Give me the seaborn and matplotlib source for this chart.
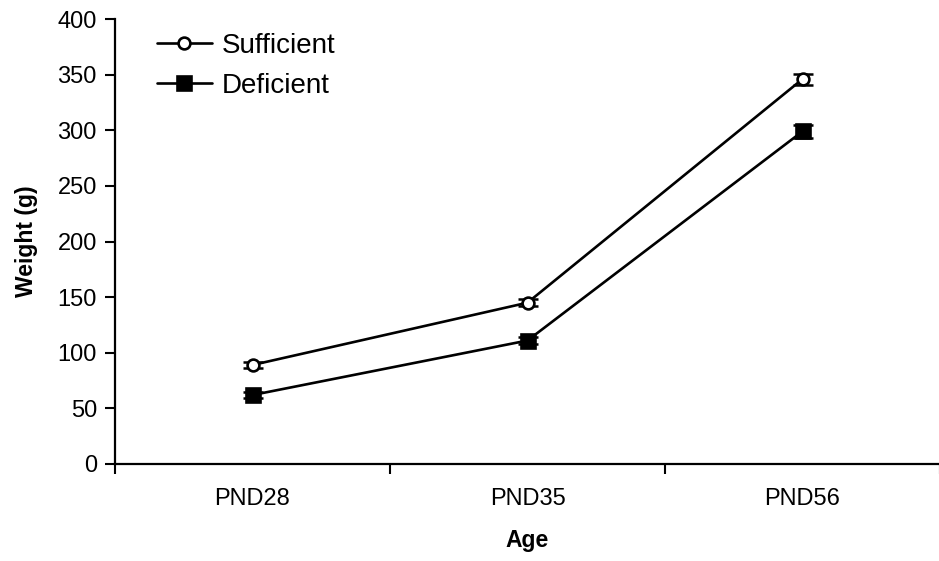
import matplotlib
matplotlib.use("Agg")
import matplotlib.pyplot as plt
import seaborn as sns
import pandas as pd
import numpy as np

categories = ["PND28", "PND35", "PND56"]
sufficient = [89, 145, 346]
sufficient_sem = [3, 3, 5]
deficient = [62, 111, 299]
deficient_sem = [3, 3, 6]
y_ticks = [0, 50, 100, 150, 200, 250, 300, 350, 400]

sns.set_style("white")
plt.rcParams["font.family"] = ["Liberation Sans", "DejaVu Sans"]
plt.rcParams["text.color"] = "black"
plt.rcParams["xtick.color"] = "black"
plt.rcParams["ytick.color"] = "black"
plt.rcParams["axes.labelcolor"] = "black"

df = pd.DataFrame({
    "x": list(range(len(categories))) * 2,
    "Weight": sufficient + deficient,
    "sem": sufficient_sem + deficient_sem,
    "Group": ["Sufficient"] * 3 + ["Deficient"] * 3,
})

fig = plt.figure(figsize=(9.39, 5.61), dpi=100)
ax = fig.add_axes([115 / 939, 1 - 464 / 561, 825 / 939, 445 / 561])

styles = {
    "Sufficient": dict(marker="o", mfc="white", ms=8.5),
    "Deficient": dict(marker="s", mfc="black", ms=9.5),
}
for g in ["Sufficient", "Deficient"]:
    sub = df[df["Group"] == g]
    ax.errorbar(sub["x"], sub["Weight"], yerr=sub["sem"], fmt="none",
                ecolor="black", elinewidth=1.8, capsize=7, capthick=1.8, zorder=2)
    sns.lineplot(data=sub, x="x", y="Weight", ax=ax, color="black", lw=1.9,
                 marker=styles[g]["marker"], markersize=styles[g]["ms"],
                 markerfacecolor=styles[g]["mfc"], markeredgecolor="black",
                 markeredgewidth=1.9, label=g, zorder=3)

ax.set_xlim(-0.5, 2.5)
ax.set_ylim(0, 400)
ax.set_yticks(y_ticks)
ax.set_xticks([-0.5, 0.5, 1.5, 2.5])
ax.set_xticklabels([])
ax.set_xticks(range(len(categories)), minor=True)
ax.set_xticklabels(categories, minor=True)
ax.tick_params(axis="x", which="major", direction="out", length=7, width=1.5, bottom=True)
ax.tick_params(axis="x", which="minor", length=0, pad=17, labelsize=17)
ax.tick_params(axis="y", direction="out", length=7, width=1.5, left=True, labelsize=17, pad=6)

for s in ["top", "right"]:
    ax.spines[s].set_visible(False)
for s in ["left", "bottom"]:
    ax.spines[s].set_linewidth(1.6)
    ax.spines[s].set_color("black")

ax.set_xlabel("Age", fontsize=16.5, fontweight="bold", labelpad=14)
ax.set_ylabel("Weight (g)", fontsize=16.5, fontweight="bold", labelpad=14)

leg = ax.legend(loc="upper left", bbox_to_anchor=(0.02, 1.025), frameon=False,
                fontsize=20, handlelength=2.0, handletextpad=0.35, labelspacing=0.5)

fig.savefig("out.png", dpi=100)
